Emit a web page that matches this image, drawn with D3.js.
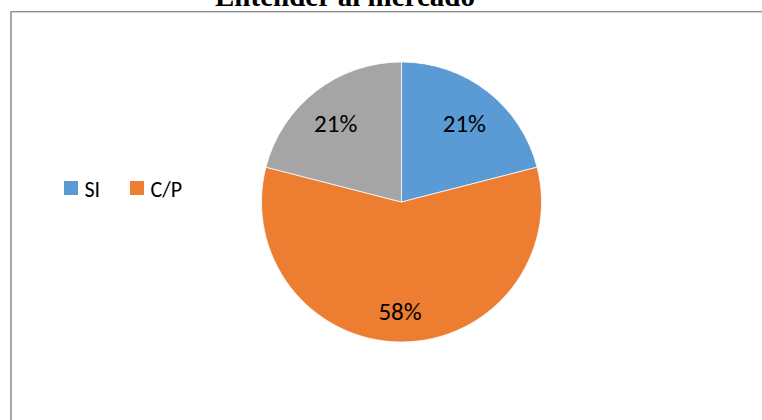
<!DOCTYPE html>
<html>
<head>
<meta charset="utf-8">
<script src="https://cdn.jsdelivr.net/npm/d3@7/dist/d3.min.js"></script>
<style>
  html, body { margin: 0; padding: 0; background: #ffffff; }
  svg { display: block; }
</style>
</head>
<body>
<svg id="chart" width="762" height="420"></svg>
<script>
// Survey answers for "Entender al mercado"
const categories = ["SI", "C/P", "NO"];
const percentages = [21, 58, 21];
const sliceColors = ["#5B9BD5", "#ED7D31", "#A5A5A5"];
const legendItems = ["SI", "C/P"];
const titleText = "Entender al mercado";

const W = 762, H = 420;
const svg = d3.select("#chart");

// Chart area frame (top and left edges visible)
svg.append("line")
  .attr("x1", 10.5).attr("y1", 11.5).attr("x2", W).attr("y2", 11.5)
  .attr("stroke", "#8c8c8c").attr("stroke-width", 1.2);
svg.append("line")
  .attr("x1", 10.5).attr("y1", 12.6).attr("x2", W).attr("y2", 12.6)
  .attr("stroke", "#d6d6d6").attr("stroke-width", 1);
svg.append("line")
  .attr("x1", 11).attr("y1", 11).attr("x2", 11).attr("y2", H)
  .attr("stroke", "#a6a6a6").attr("stroke-width", 2);

// Title
svg.append("text")
  .attr("x", 345).attr("y", 6)
  .attr("text-anchor", "middle")
  .attr("font-family", "'Times New Roman', 'Liberation Serif', serif")
  .attr("font-weight", "bold")
  .attr("font-size", 29)
  .attr("fill", "#000")
  .text(titleText);

// Pie
const cx = 401.5, cy = 202, r = 140;
const data = categories.map((c, i) => ({ cat: c, value: percentages[i], color: sliceColors[i] }));

const pie = d3.pie().value(d => d.value).sort(null);
const arc = d3.arc().innerRadius(0).outerRadius(r);
const labelArc = d3.arc().innerRadius(r * 0.75).outerRadius(r * 0.75);
const arcs = pie(data);

const g = svg.append("g").attr("transform", `translate(${cx},${cy})`);

g.selectAll("path.slice")
  .data(arcs)
  .join("path")
  .attr("class", "slice")
  .attr("d", arc)
  .attr("fill", d => d.data.color)
  .attr("stroke", "#ffffff")
  .attr("stroke-width", 0.75);

const labelFont = "Carlito, Calibri, Lato, 'Open Sans', sans-serif";

// Percentage labels, baseline placed just below the slice centroid
g.selectAll("text.pct")
  .data(arcs)
  .join("text")
  .attr("class", "pct")
  .attr("transform", d => {
    const [x, y] = labelArc.centroid(d);
    return `translate(${x - 1.5},${y + 13})`;
  })
  .attr("text-anchor", "middle")
  .attr("font-family", labelFont)
  .attr("font-size", 25)
  .attr("fill", "#000")
  .text(d => d.data.value + "%");

// Legend
const legendX = d3.scalePoint().domain(legendItems).range([64, 130]);
const legend = svg.append("g");
const items = legend.selectAll("g")
  .data(legendItems)
  .join("g")
  .attr("transform", d => `translate(${legendX(d)},181)`);

items.append("rect")
  .attr("width", 14).attr("height", 14)
  .attr("fill", d => sliceColors[categories.indexOf(d)]);

items.append("text")
  .attr("x", 20.5).attr("y", 15.5)
  .attr("font-family", labelFont)
  .attr("font-size", 22)
  .attr("fill", "#000")
  .text(d => d);
</script>
</body>
</html>
